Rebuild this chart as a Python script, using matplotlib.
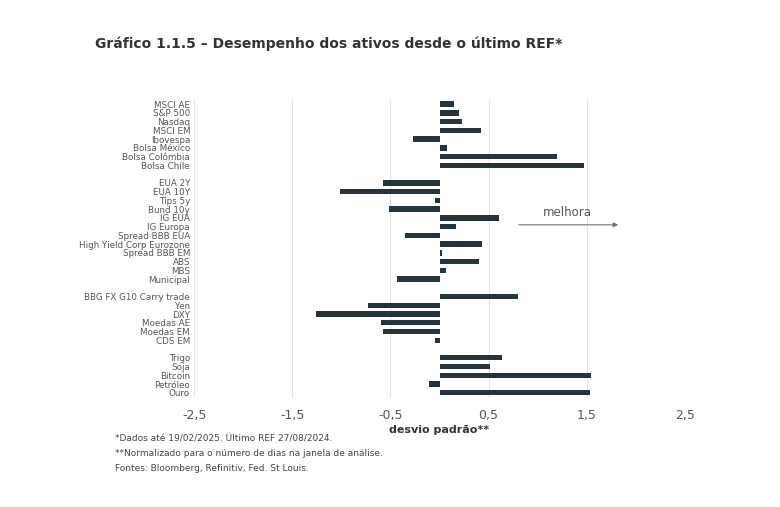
import numpy as np
import matplotlib.pyplot as plt

# --- data ---
groups = [
    (["MSCI AE", "S&P 500", "Nasdaq", "MSCI EM", "Ibovespa", "Bolsa México",
      "Bolsa Colômbia", "Bolsa Chile"],
     [0.15, 0.20, 0.23, 0.42, -0.27, 0.08, 1.20, 1.47]),
    (["EUA 2Y", "EUA 10Y", "Tips 5y", "Bund 10y", "IG EUA", "IG Europa",
      "Spread BBB EUA", "High Yield Corp Eurozone", "Spread BBB EM", "ABS",
      "MBS", "Municipal"],
     [-0.58, -1.01, -0.05, -0.51, 0.61, 0.17, -0.35, 0.43, 0.03, 0.40, 0.07, -0.43]),
    (["BBG FX G10 Carry trade", "Yen", "DXY", "Moedas AE", "Moedas EM", "CDS EM"],
     [0.80, -0.73, -1.26, -0.60, -0.58, -0.05]),
    (["Trigo", "Soja", "Bitcoin", "Petróleo", "Ouro"],
     [0.64, 0.51, 1.54, -0.11, 1.53]),
]
x_ticks = [-2.5, -1.5, -0.5, 0.5, 1.5, 2.5]

labels, values, ypos = [], [], []
y = 0
for names, vals in groups:
    for n, v in zip(names, vals):
        labels.append(n)
        values.append(v)
        ypos.append(y)
        y += 1
    y += 1  # blank row between groups

fig = plt.figure(figsize=(7.8, 5.07), dpi=100)
ax = fig.add_axes([0.249, 0.215, 0.629, 0.59])
ax.barh(ypos, values, height=0.62, color="#25343d")
ax.set_yticks(ypos)
ax.set_yticklabels(labels, fontsize=6.3, color="#555555")
ax.set_ylim(ypos[-1] + 0.6, -0.6)
ax.set_xlim(-2.5, 2.5)
ax.set_xticks(x_ticks)
ax.set_xticklabels([str(t).replace(".", ",") for t in x_ticks], fontsize=9, color="#555555")
ax.tick_params(length=0, pad=3)
ax.tick_params(axis="x", pad=8)
ax.grid(axis="x", color="#e3e3e3", linewidth=0.8)
ax.set_axisbelow(True)
for s in ax.spines.values():
    s.set_visible(False)

ax.annotate("", xy=(1.85, 13.8), xytext=(0.78, 13.8),
            arrowprops=dict(arrowstyle="-|>", color="#777777", lw=0.8, mutation_scale=7))
ax.text(1.3, 12.4, "melhora", fontsize=8.5, color="#555555", ha="center", va="center")

ax.set_xlabel("desvio padrão**", fontsize=8, fontweight="bold", color="#333333", labelpad=2)

fig.text(0.122, 0.905, "Gráfico 1.1.5 – Desempenho dos ativos desde o último REF*",
         fontsize=10, fontweight="bold", color="#333333")
notes = ["*Dados até 19/02/2025. Último REF 27/08/2024.",
         "**Normalizado para o número de dias na janela de análise.",
         "Fontes: Bloomberg, Refinitiv, Fed. St Louis."]
for i, t in enumerate(notes):
    fig.text(0.148, 0.134 - i * 0.029, t, fontsize=6.5, color="#444444", va="center")

fig.savefig("out.png", dpi=100, facecolor="white")
